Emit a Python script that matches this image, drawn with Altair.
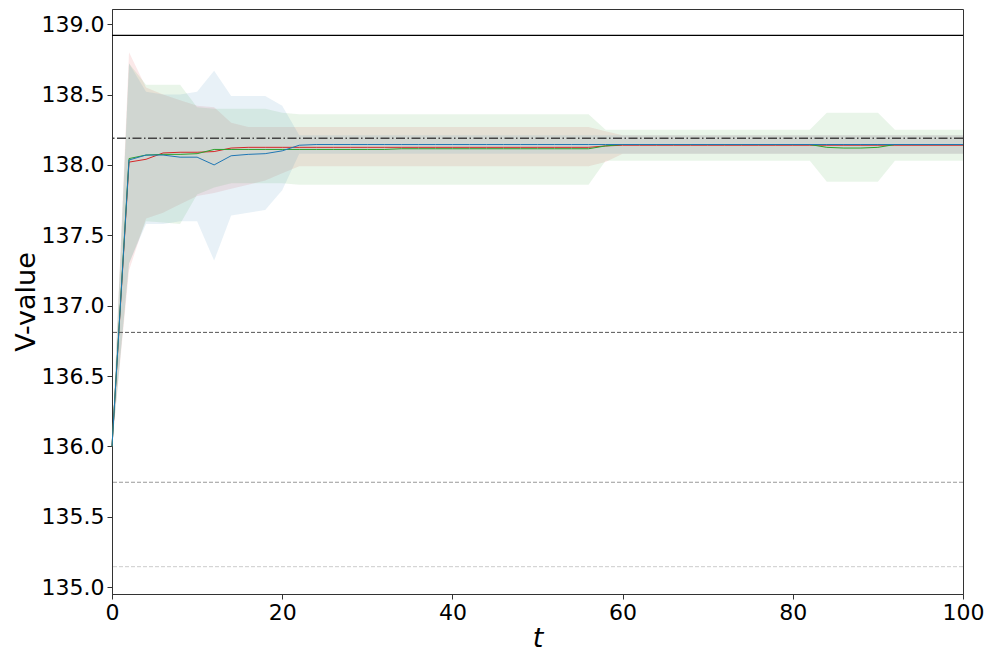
import altair as alt
import pandas as pd

t = list(range(0, 101, 2))

red_mean = [136.00, 138.02, 138.04, 138.085, 138.09, 138.09, 138.095, 138.12] + [138.125] * 21 + [138.135] + [138.14] * 21
red_upper = [136.00, 138.80, 138.55, 138.50, 138.46, 138.42, 138.41, 138.30] + [138.27] * 21 + [138.24] + [138.21] * 21
red_lower = [136.00, 137.25, 137.62, 137.66, 137.72, 137.78, 137.80, 137.83, 137.86, 137.89, 137.94] + [137.99] * 18 + [138.02] + [138.08] * 21

green_mean = [136.00, 138.045, 138.07, 138.075, 138.075, 138.08] + [138.11] * 11 + [138.115] * 12 + [138.135] + [138.145] * 12 + [138.125, 138.12, 138.12, 138.125] + [138.145] * 5
green_upper = [136.00, 138.72, 138.57, 138.57, 138.57, 138.41] + [138.40] * 4 + [138.37] + [138.36] * 18 + [138.25] + [138.25] * 12 + [138.37] * 4 + [138.25] * 5
green_lower = [136.00, 137.30, 137.60, 137.59, 137.58, 137.79, 137.84] + [137.87] * 4 + [137.86] * 18 + [138.03] + [138.03] * 12 + [137.88] * 4 + [138.03] * 5

blue_mean = [136.00, 138.035, 138.07, 138.07, 138.055, 138.055, 138.00, 138.065, 138.075, 138.08, 138.10, 138.14] + [138.145] * 39
blue_upper = [136.00, 138.72, 138.52, 138.50, 138.50, 138.52, 138.67, 138.49, 138.49, 138.49, 138.42, 138.21] + [138.21] * 39
blue_lower = [136.00, 137.30, 137.58, 137.58, 137.60, 137.60, 137.32, 137.64, 137.66, 137.68, 137.82, 138.08] + [138.08] * 39

series_names = ["red", "green", "blue"]
series_colors = ["#d62728", "#2ca02c", "#1f77b4"]

ref_values = [138.92, 138.19, 136.81, 135.745, 135.145]
ref_colors = ["#000000", "#444444", "#555555", "#999999", "#cccccc"]
ref_dashes = [[1, 0], [9, 2.5, 1.5, 2.5], [4, 2], [4, 2], [4, 2]]
ref_widths = [1.2, 1.5, 1, 1, 1]

x_ticks = [0, 20, 40, 60, 80, 100]
y_ticks = [135.0, 135.5, 136.0, 136.5, 137.0, 137.5, 138.0, 138.5, 139.0]

rows = []
for name, m, u, lo in [("red", red_mean, red_upper, red_lower),
                       ("green", green_mean, green_upper, green_lower),
                       ("blue", blue_mean, blue_upper, blue_lower)]:
    for ti, mi, ui, li in zip(t, m, u, lo):
        rows.append({"t": ti, "series": name, "mean": mi, "upper": ui, "lower": li})
df = pd.DataFrame(rows)

x_scale = alt.Scale(domain=[0, 100], nice=False, zero=False)
y_scale = alt.Scale(domain=[134.951, 139.108], nice=False, zero=False)
color_scale = alt.Scale(domain=series_names, range=series_colors)

x_enc = alt.X("t:Q", scale=x_scale,
              axis=alt.Axis(values=x_ticks, title="t", format="d", grid=False))
y_axis = alt.Axis(values=y_ticks, format=".1f", title="V-value", grid=False)

layers = []
for name in series_names:
    sub = df[df["series"] == name]
    layers.append(
        alt.Chart(sub).mark_area(opacity=0.1).encode(
            x=x_enc,
            y=alt.Y("upper:Q", scale=y_scale, axis=y_axis),
            y2="lower:Q",
            color=alt.Color("series:N", scale=color_scale, legend=None),
        )
    )
for name in series_names:
    sub = df[df["series"] == name]
    layers.append(
        alt.Chart(sub).mark_line(strokeWidth=1).encode(
            x=x_enc,
            y=alt.Y("mean:Q", scale=y_scale, axis=y_axis),
            color=alt.Color("series:N", scale=color_scale, legend=None),
        )
    )
for v, c, d, w in zip(ref_values, ref_colors, ref_dashes, ref_widths):
    layers.append(
        alt.Chart(pd.DataFrame({"v": [v]})).mark_rule(
            color=c, strokeDash=d, strokeWidth=w
        ).encode(y=alt.Y("v:Q", scale=y_scale, axis=y_axis))
    )

chart = alt.layer(*layers).properties(
    width=851, height=585,
    autosize=alt.AutoSizeParams(type="none"),
    padding={"left": 104, "top": 1, "right": 26, "bottom": 62},
).configure_view(
    stroke="#333333", strokeWidth=1
).configure_axis(
    labelFont="DejaVu Sans", titleFont="DejaVu Sans",
    labelFontSize=22, titleFontSize=27,
    labelColor="#000000", titleColor="#000000",
    tickColor="#333333", domainColor="#333333",
    tickSize=5, labelPadding=3, titleFontWeight="normal",
).configure_axisX(
    titleFontStyle="italic", titlePadding=2, labelFlush=False,
).configure_axisY(
    titlePadding=1, labelFlush=False,
)

chart.save("out.html", embed_options={"renderer": "svg", "actions": False})
